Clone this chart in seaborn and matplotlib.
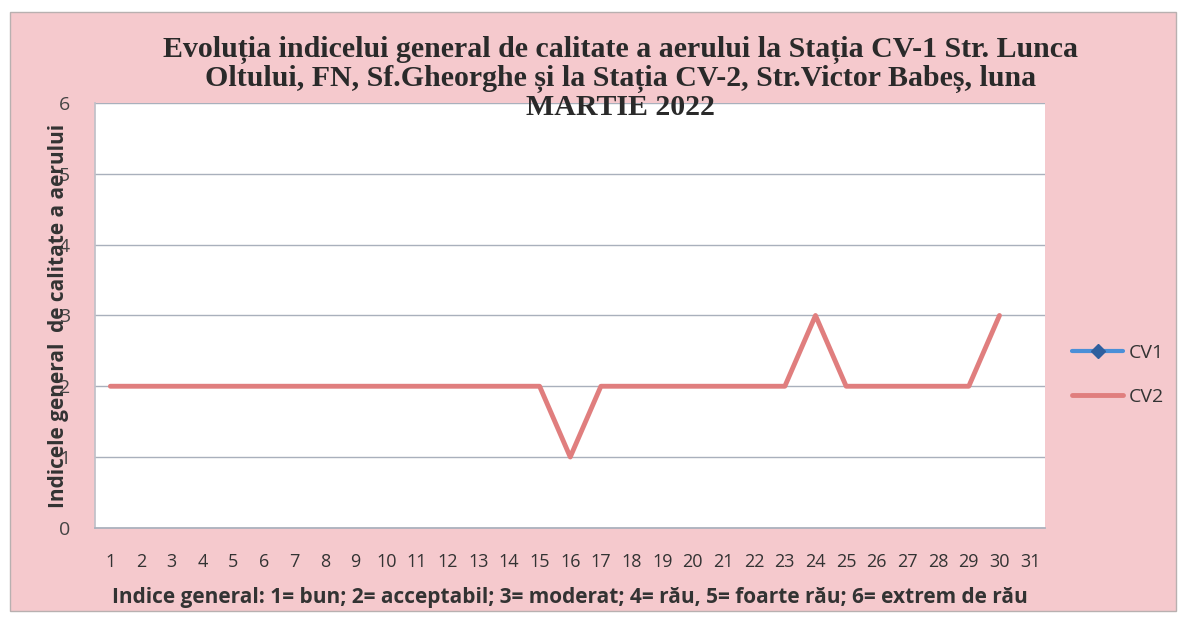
import numpy as np
import pandas as pd
import matplotlib
matplotlib.use("Agg")
import matplotlib.pyplot as plt
import seaborn as sns

days = list(range(1, 32))
cv1 = [np.nan] * 31
cv2 = [2, 2, 2, 2, 2, 2, 2, 2, 2, 2, 2, 2, 2, 2, 2, 1, 2, 2, 2, 2, 2, 2, 2, 3, 2, 2, 2, 2, 2, 3, np.nan]
yticks = [0, 1, 2, 3, 4, 5, 6]

title = ("Evoluția indicelui general de calitate a aerului la Stația CV-1 Str. Lunca\n"
         "Oltului, FN, Sf.Gheorghe și la Stația CV-2, Str.Victor Babeș, luna\n"
         "MARTIE 2022")
ylabel = "Indicele general  de calitate a aerului"
xlabel = "Indice general: 1= bun; 2= acceptabil; 3= moderat; 4= rău, 5= foarte rău; 6= extrem de rău"

sns.set_theme(style="white")
plt.rcParams['font.family'] = ['Open Sans', 'DejaVu Sans']

pink = "#F5C9CD"
fig = plt.figure(figsize=(11.88, 6.18), dpi=100, facecolor="white")
fig.patches.append(plt.Rectangle((0.008, 0.012), 0.982, 0.968, transform=fig.transFigure,
                                 facecolor=pink, edgecolor="#B8B0B0", linewidth=1.0, zorder=-10))
ax = fig.add_axes([0.080, 0.146, 0.800, 0.687])
ax.set_facecolor("white")

df2 = pd.DataFrame({"day": days, "val": cv2})
ax.plot(days, cv1, color="#4A8FD8", lw=3, marker="D", markersize=7,
        markerfacecolor="#2F5F9E", markeredgecolor="#2F5F9E", label="CV1")
sns.lineplot(data=df2, x="day", y="val", ax=ax, color="#E07E7E", lw=3.5, label="CV2")

ax.set_xlim(0.5, 31.5)
ax.set_ylim(0, 6)
ax.set_yticks(yticks)
ax.set_xticks(days)
ax.set_xticklabels([str(d) for d in days], fontsize=13, color="#333333")
ax.set_yticklabels([str(v) for v in yticks], fontsize=14, color="#444444")
ax.tick_params(axis="x", length=0, pad=18)
ax.tick_params(axis="y", length=0, pad=18)
ax.grid(axis="y", color="#A9B0BC", lw=1.0)
ax.grid(axis="x", visible=False)
for s in ax.spines.values():
    s.set_visible(False)
ax.spines["left"].set_visible(True)
ax.spines["left"].set_color("#C0C0C8")
ax.spines["bottom"].set_visible(True)
ax.spines["bottom"].set_color("#A9B0BC")

ax.set_ylabel(ylabel, fontsize=15, fontweight="bold", color="#333333")
ax.yaxis.set_label_coords(-0.027, 0.5)
ax.set_xlabel(xlabel, fontsize=15, fontweight="bold", color="#333333", labelpad=12)

fig.text(0.522, 0.942, title, ha="center", va="top", fontsize=21.5, fontweight="bold",
         family=["Liberation Serif", "DejaVu Serif"], color="#2A2A2A", linespacing=1.05)

leg = ax.legend(loc="center left", bbox_to_anchor=(1.01, 0.36), frameon=False,
                fontsize=14, handlelength=2.6, labelspacing=1.3, handletextpad=0.3)
for t in leg.get_texts():
    t.set_color("#333333")

fig.savefig("out.png", dpi=100, facecolor=fig.get_facecolor())
